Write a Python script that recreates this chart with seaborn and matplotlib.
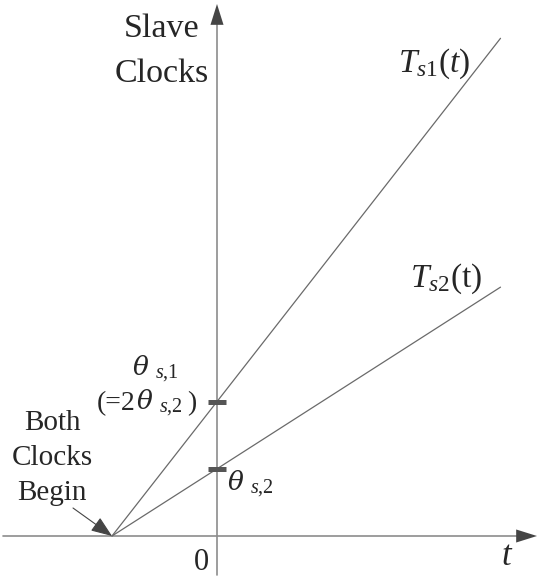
import matplotlib
matplotlib.use("Agg")
import matplotlib.pyplot as plt
import seaborn as sns
import pandas as pd

# values (1 unit = distance from start to t=0)
time = [-1.0, 0.0, 2.7]
ts1 = [0.0, 1.28, 4.74]
ts2 = [0.0, 0.64, 2.37]
theta_s1 = 1.28
theta_s2 = 0.64

sns.set_style("white")
plt.rcParams['font.family'] = ['Liberation Serif', 'DejaVu Serif']
plt.rcParams['mathtext.fontset'] = 'custom'
plt.rcParams['mathtext.rm'] = 'Liberation Serif'
plt.rcParams['mathtext.it'] = 'Liberation Serif:italic'

PX = 105.0  # pixels per data unit


def pt(px, py):
    # pixel position in the 540x580 picture -> data coordinates
    return ((px - 217) / PX, (536 - py) / PX)


def theta(ax, px, py, sub):
    # big italic theta with a small subscript, like the original drawing
    ax.text(*pt(px, py), "\u03b8", fontsize=19, fontstyle="italic",
            family="DejaVu Serif", ha="left", va="baseline")
    ax.text(*pt(px + 22, py + 3), r"$s$," + sub, fontsize=14.5,
            ha="left", va="baseline")


fig = plt.figure(figsize=(5.4, 5.8), dpi=100)
ax = fig.add_axes([0, 0, 1, 1])
ax.set_xlim(-217 / PX, 323 / PX)
ax.set_ylim(-44 / PX, 536 / PX)
ax.set_axis_off()

df = pd.DataFrame({
    "t": time * 2,
    "clock": ts1 + ts2,
    "name": ["Ts1"] * len(time) + ["Ts2"] * len(time),
})
sns.lineplot(data=df, x="t", y="clock", hue="name", legend=False,
             palette={"Ts1": "#6a6a6a", "Ts2": "#6a6a6a"}, lw=0.9, ax=ax)

# axes with arrow heads
axis_col = "#8c8c8c"
head_col = "#454545"
x0, _ = pt(3, 536)
x1, _ = pt(537, 536)
_, y0 = pt(217, 575)
_, y1 = pt(217, 4)
ax.plot([x0, x1 - 0.1], [0, 0], color=axis_col, lw=1.2, zorder=1)
ax.plot([0, 0], [y0, y1 - 0.1], color=axis_col, lw=1.2, zorder=1)
head = dict(arrowstyle="-|>,head_length=15,head_width=4.7", mutation_scale=1,
            color=head_col, lw=0, shrinkA=0, shrinkB=0)
ax.annotate("", xy=(x1, 0), xytext=(x1 - 0.4, 0), arrowprops=head, zorder=4)
ax.annotate("", xy=(0, y1), xytext=(0, y1 - 0.4), arrowprops=head, zorder=4)

# offset marks on the vertical axis
ax.plot([0, 0], [theta_s1, theta_s2], ls="none", marker="_", ms=13, mew=3.6,
        color="#555555", zorder=5)

# labels
ax.text(*pt(162, 37), "Slave", fontsize=24.5, ha="center", va="baseline")
ax.text(*pt(162, 82), "Clocks", fontsize=24.5, ha="center", va="baseline")
ax.text(*pt(434, 72), r"$T_{s1}(t)$", fontsize=24, ha="center", va="baseline")
ax.text(*pt(446, 287), r"$T_{s2}$(t)", fontsize=24, ha="center", va="baseline")

theta(ax, 133, 375, "1")
ax.text(*pt(135, 410), "(=2", fontsize=20, ha="right", va="baseline")
theta(ax, 137, 409, "2")
ax.text(*pt(187, 410), ")", fontsize=20, ha="left", va="baseline")
theta(ax, 228, 490, "2")

ax.text(*pt(52, 430), "Both", fontsize=21, ha="center", va="baseline")
ax.text(*pt(52, 465), "Clocks", fontsize=21, ha="center", va="baseline")
ax.text(*pt(52, 500), "Begin", fontsize=21, ha="center", va="baseline")
ax.text(*pt(201, 570), "0", fontsize=22, ha="center", va="baseline")
ax.text(*pt(507, 565), r"$t$", fontsize=25, ha="center", va="baseline")

# pointer to the common start
ax.annotate("", xy=(time[0], 0), xytext=pt(73, 508),
            arrowprops=dict(arrowstyle="-|>,head_length=13,head_width=5",
                            mutation_scale=1, color=head_col, lw=0.8,
                            shrinkA=0, shrinkB=0))

fig.savefig("out.png", dpi=100)
